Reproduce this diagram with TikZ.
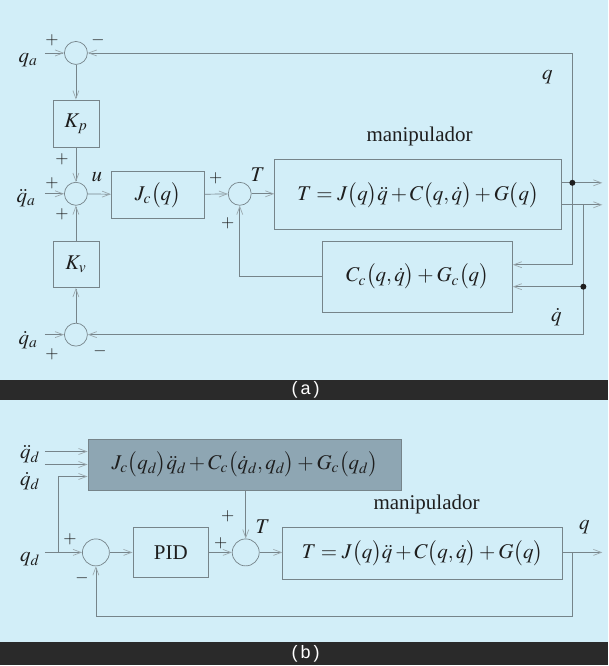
\documentclass[tikz,border=0pt]{standalone}
\usepackage{mathptmx}
\usepackage{fontspec}
\setmainfont{Liberation Serif}
\setsansfont{Liberation Sans}
\usetikzlibrary{arrows.meta,positioning}
\definecolor{bgblue}{HTML}{D2EEF8}
\definecolor{barblack}{HTML}{2A2A2A}
\definecolor{wiregray}{HTML}{76848A}
\definecolor{tipgray}{HTML}{9AA8AE}
\definecolor{ffgray}{HTML}{8EA6B3}
\definecolor{inkdark}{HTML}{1E1E1E}

\begin{document}
\begin{tikzpicture}[
    x=1pt, y=-1pt,
    font=\fontsize{21}{25}\selectfont, text=inkdark,
    blk/.style={draw=wiregray, line width=0.7pt, inner sep=0pt},
    sumc/.style={circle, draw=wiregray, line width=0.7pt,
        minimum size=23pt, inner sep=0pt},
    wire/.style={draw=wiregray, line width=0.7pt},
    sig/.style={wire, -{Straight Barb[length=8pt, width=6pt, color=tipgray]}},
    sgn/.style={font=\fontsize{17}{19}\selectfont, inner sep=0pt},
    bartxt/.style={font=\sffamily\fontsize{18}{20}\selectfont, text=white}
]

% Background and caption bars
\fill[bgblue] (0,0) rectangle (609,666);
\fill[barblack] (0,380) rectangle (609,400);
\fill[barblack] (0,643) rectangle (609,666);
\node[bartxt] (capa) at (306,390) {(\,a\,)};
\node[bartxt] (capb) at (306,655) {(\,b\,)};

% ---------------- (a) ----------------
\node[sumc] (s1) at (76,53) {};
\node[sumc] (s2) at (76,194) {};
\node[sumc] (s3) at (76,335) {};
\node[sumc] (s4) at (240,194) {};

\node[blk, minimum width=46pt, minimum height=48pt] (kp) at (76,124) {$K_p$};
\node[blk, minimum width=46pt, minimum height=46pt] (kv) at (76,265) {$K_v$};
\node[blk, minimum width=93pt, minimum height=47pt] (jc) at (158,195) {$J_c\bigl(q\bigr)$};
\node[blk, minimum width=287pt, minimum height=70pt] (man) at (418.5,195)
    {$T = J\bigl(q\bigr)\ddot{q} + C\bigl(q,\dot{q}\bigr) + G\bigl(q\bigr)$};
\node[blk, minimum width=190pt, minimum height=71pt] (cg) at (418,277)
    {$C_c\bigl(q,\dot{q}\bigr) + G_c\bigl(q\bigr)$};
\node (mana) at (420,137) {manipulador};

% inputs
\node (qa) at (28,60) {$q_a$};
\node (qdda) at (26,198) {$\ddot{q}_a$};
\node (qda) at (28,340) {$\dot{q}_a$};
\draw[sig] (45,53) -- (s1);
\draw[sig] (45,194) -- (s2);
\draw[sig] (45,335) -- (s3);

% forward path
\draw[sig] (s1) -- (kp);
\draw[sig] (kp) -- (s2);
\draw[sig] (s3) -- (kv);
\draw[sig] (kv) -- (s2);
\draw[sig] (s2) -- (jc);
\draw[sig] (jc) -- (s4);
\draw[sig] (s4) -- (s4 -| man.west);

% outputs and feedback
\coordinate (jq) at (573,183);
\coordinate (jqd) at (584,287);
\coordinate (qout) at (603,183);
\coordinate (qdout) at (603,205);
\draw[sig] (man.east |- jq) -- (qout);
\draw[sig] (man.east |- qdout) -- (qdout);
\draw[sig] (jq) |- (s1);
\draw[sig] (jq) |- ([yshift=12pt]cg.east);
\draw[sig] (jqd) -- ([yshift=-10pt]cg.east);
\draw[sig] (qdout -| jqd) |- (s3);
\draw[sig] (cg.west) -| (s4);
\fill[inkdark] (jq) circle (3pt);
\fill[inkdark] (jqd) circle (3pt);

% labels
\node (lq) at (548,77) {$q$};
\node (lqd) at (557,317) {$\dot{q}$};
\node (lu) at (97,177) {$u$};
\node (lt) at (258,175) {$T$};
\node[sgn] at (52,40) {$+$};
\node[sgn] at (98,40) {$-$};
\node[sgn] at (62,159) {$+$};
\node[sgn] at (52,183) {$+$};
\node[sgn] at (62,214) {$+$};
\node[sgn] at (216,178) {$+$};
\node[sgn] at (228,223) {$+$};
\node[sgn] at (52,355) {$+$};
\node[sgn] at (100,352) {$-$};

% ---------------- (b) ----------------
\node[blk, fill=ffgray, minimum width=314pt, minimum height=51pt] (ff) at (245,465)
    {$J_c\bigl(q_d\bigr)\ddot{q}_d + C_c\bigl(\dot{q}_d,q_d\bigr) + G_c\bigl(q_d\bigr)$};
\node[sumc, minimum size=27pt] (s5) at (96,553) {};
\node[sumc, minimum size=27pt] (s6) at (246,553) {};
\node[blk, minimum width=76pt, minimum height=50pt] (pid) at (171,553) {PID};
\node[blk, minimum width=280pt, minimum height=52pt] (manb) at (423,554)
    {$T = J\bigl(q\bigr)\ddot{q} + C\bigl(q,\dot{q}\bigr) + G\bigl(q\bigr)$};
\node (manbl) at (427,505) {manipulador};

% inputs
\node (qddd) at (30,455) {$\ddot{q}_d$};
\node (qdd) at (30,482) {$\dot{q}_d$};
\node (qd) at (30,560) {$q_d$};
\coordinate (br) at (58,553);
\draw[sig] (45,452) -- ([yshift=13pt]ff.west);
\draw[sig] (45,465) -- (ff.west);
\draw[sig] (br) |- ([yshift=-12pt]ff.west);
\draw[sig] (45,553) -- (s5);

% forward path
\draw[sig] (s5) -- (pid);
\draw[sig] (pid) -- (s6);
\draw[sig] (ff.south -| s6) -- (s6);
\draw[sig] (s6) -- (s6 -| manb.west);

% output and feedback
\coordinate (fb) at (573,553);
\coordinate (qbout) at (603,553);
\draw[sig] (manb.east |- qbout) -- (qbout);
\draw[sig] (fb) -- ++(0,64) -| (s5);

% labels
\node (lqb) at (585,528) {$q$};
\node (ltb) at (263,527) {$T$};
\node[sgn] at (70,540) {$+$};
\node[sgn] at (82,579) {$-$};
\node[sgn] at (221,544) {$+$};
\node[sgn] at (228,517) {$+$};

\end{tikzpicture}
\end{document}
